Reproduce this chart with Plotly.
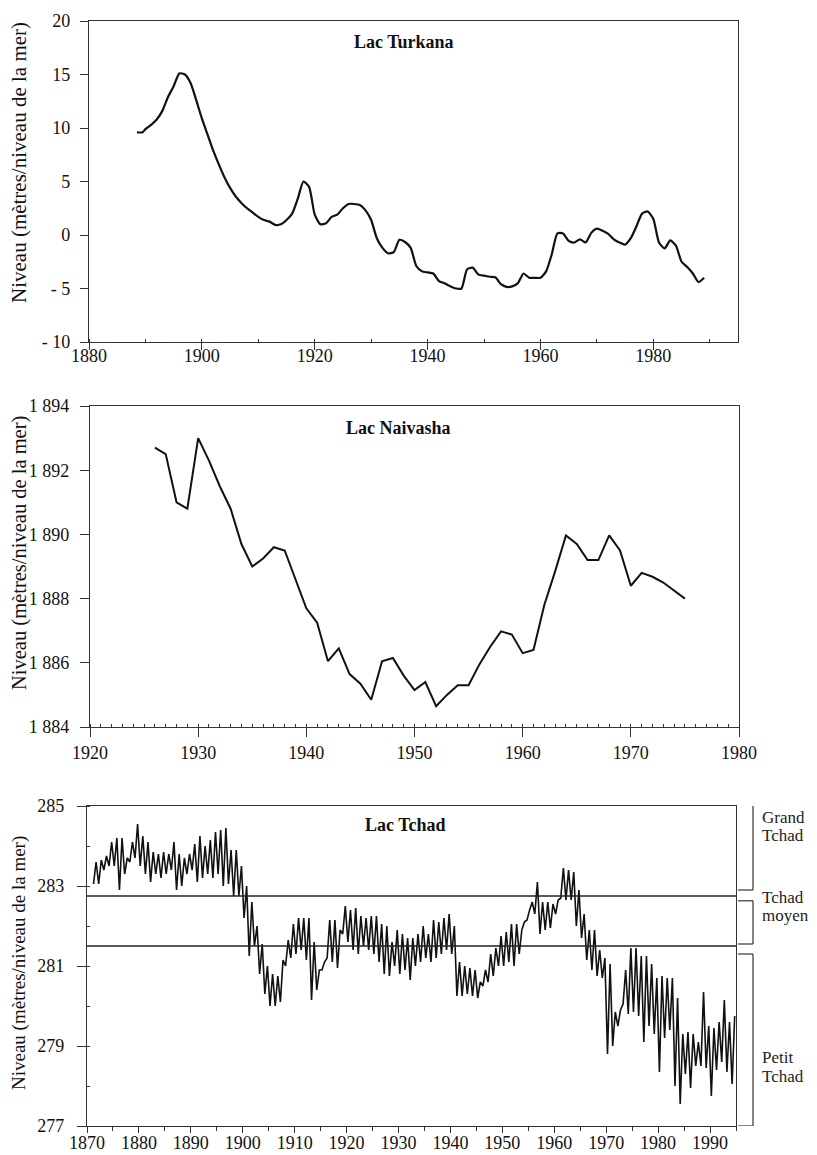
import plotly.graph_objects as go

# ---------------- DATA ----------------
turkana_years = [1888.5, 1889.5, 1890, 1891, 1892, 1893, 1894, 1895, 1896, 1897, 1898, 1899,
                 1900, 1901, 1902, 1903, 1904, 1905, 1906, 1907, 1908, 1909, 1910, 1911, 1912,
                 1913, 1914, 1915, 1916, 1917, 1918, 1919, 1920, 1921, 1922, 1923, 1924, 1925,
                 1926, 1927, 1928, 1929, 1930, 1931, 1932, 1933, 1934, 1935, 1936, 1937, 1938,
                 1939, 1940, 1941, 1942, 1943, 1944, 1945, 1946, 1947, 1948, 1949, 1950, 1951,
                 1952, 1953, 1954, 1955, 1956, 1957, 1958, 1959, 1960, 1961, 1962, 1963, 1964,
                 1965, 1966, 1967, 1968, 1969, 1970, 1971, 1972, 1973, 1974, 1975, 1976, 1977,
                 1978, 1979, 1980, 1981, 1982, 1983, 1984, 1985, 1986, 1987, 1988, 1989]
turkana_level = [9.6, 9.6, 9.9, 10.3, 10.8, 11.6, 12.9, 13.9, 15.1, 15.0, 14.2, 12.6,
                 10.9, 9.4, 7.9, 6.6, 5.4, 4.4, 3.6, 3.0, 2.5, 2.1, 1.7, 1.4, 1.25,
                 0.95, 1.0, 1.4, 2.0, 3.4, 5.0, 4.5, 1.9, 1.0, 1.1, 1.7, 1.9, 2.5,
                 2.9, 2.9, 2.8, 2.3, 1.4, -0.3, -1.2, -1.7, -1.6, -0.45, -0.65, -1.2, -2.9,
                 -3.4, -3.5, -3.6, -4.3, -4.5, -4.8, -5.0, -5.0, -3.2, -3.05, -3.7, -3.8, -3.9,
                 -3.95, -4.6, -4.85, -4.8, -4.5, -3.6, -4.0, -4.0, -4.0, -3.4, -1.8, 0.15, 0.15,
                 -0.55, -0.7, -0.4, -0.7, 0.2, 0.6, 0.4, 0.1, -0.4, -0.7, -0.9, -0.3, 0.8,
                 2.0, 2.2, 1.5, -0.7, -1.25, -0.5, -1.0, -2.5, -3.0, -3.6, -4.4, -4.0]

naivasha_years = list(range(1926, 1976))
naivasha_level = [1892.7, 1892.5, 1891.0, 1890.8, 1893.0, 1892.3, 1891.5, 1890.8, 1889.7, 1889.0,
                  1889.25, 1889.6, 1889.5, 1888.6, 1887.7, 1887.25, 1886.05, 1886.45, 1885.65, 1885.35,
                  1884.85, 1886.05, 1886.15, 1885.6, 1885.15, 1885.4, 1884.65, 1885.0, 1885.3, 1885.3,
                  1885.95, 1886.5, 1886.98, 1886.88, 1886.3, 1886.4, 1887.8, 1888.85, 1889.97, 1889.7,
                  1889.2, 1889.2, 1889.97, 1889.5, 1888.4, 1888.8, 1888.68, 1888.5, 1888.25, 1888.0]

tchad_years = list(range(1871, 1995))
tchad_high = [283.6, 283.65, 283.75, 284.1, 284.2, 284.2, 283.7, 284.1, 284.55, 284.25,
              284.1, 283.85, 283.8, 283.85, 283.8, 284.1, 283.8, 283.7, 283.8, 284.05,
              284.25, 284.0, 284.15, 284.35, 284.4, 284.45, 283.9, 283.9, 283.5, 283.0,
              282.6, 282.0, 281.55, 281.0, 280.8, 280.75, 281.15, 281.65, 282.05, 282.2,
              282.2, 282.2, 281.6, 280.9, 281.1, 282.15, 282.15, 281.9, 282.5, 282.4,
              282.45, 282.25, 282.2, 282.25, 282.25, 282.05, 282.0, 281.6, 281.9, 281.8,
              281.7, 281.7, 281.8, 282.0, 281.8, 282.15, 282.1, 282.2, 282.3, 282.0,
              281.1, 281.0, 280.95, 280.9, 280.6, 280.9, 281.3, 281.45, 281.75, 281.85,
              282.05, 282.05, 281.9, 282.15, 282.6, 283.1, 282.6, 282.6, 282.55, 282.65,
              283.45, 283.4, 283.35, 282.9, 282.3, 281.9, 281.9, 281.4, 281.2, 281.05,
              279.85, 279.9, 280.9, 281.45, 281.45, 281.25, 281.25, 281.05, 280.7, 280.75,
              280.7, 280.7, 280.2, 279.3, 279.35, 279.3, 279.1, 280.35, 279.5, 279.45,
              279.6, 280.15, 279.6, 279.75]
tchad_low = [283.05, 283.05, 283.4, 283.5, 283.5, 282.9, 283.3, 283.6, 283.7, 283.5,
             283.3, 283.1, 283.3, 283.2, 283.3, 283.4, 282.9, 283.0, 283.3, 283.4,
             283.1, 283.2, 283.3, 283.2, 283.3, 283.0, 283.05, 282.75, 282.75, 282.2,
             281.25, 281.5, 280.8, 280.3, 280.0, 280.0, 280.1, 281.0, 281.2, 281.3,
             281.4, 281.15, 280.15, 280.4, 280.9, 281.2, 281.1, 280.95, 281.8, 281.6,
             281.4, 281.3, 281.5, 281.4, 281.3, 281.1, 280.8, 280.75, 281.0, 280.8,
             280.9, 280.65, 281.0, 281.1, 281.2, 281.1, 281.2, 281.3, 281.4, 281.3,
             280.25, 280.25, 280.3, 280.25, 280.2, 280.5, 280.6, 280.75, 281.0, 281.0,
             281.1, 281.0, 281.3, 282.1, 282.4, 282.3, 281.8, 281.9, 281.95, 282.3,
             282.7, 282.65, 282.65, 282.0, 281.7, 281.15, 280.9, 280.75, 280.7, 278.8,
             279.0, 279.5, 280.05, 279.8, 279.85, 279.75, 279.1, 279.5, 279.3, 278.35,
             279.2, 279.4, 278.0, 277.55, 278.3, 277.95, 278.5, 278.5, 278.45, 277.75,
             278.4, 278.6, 278.35, 278.05]

tchad_limits = [282.75, 281.5]          # Grand / moyen / petit thresholds
tchad_zone_lines = [["Grand", "Tchad"], ["Tchad", "moyen"], ["Petit", "Tchad"]]
tchad_zone_spans = [(285.0, 282.9), (282.63, 281.55), (281.3, 277.0)]

# page geometry (the page body adds an 8px margin around the figure)
PAGE_W, PAGE_H, OFF = 817, 1155, 8
W, H = PAGE_W - OFF, PAGE_H - OFF
SERIF = "Liberation Serif, Times New Roman, serif"


def px(x):
    return (x - OFF) / W


def py(y):
    return 1 - (y - OFF) / H


# build interleaved seasonal series (low then high each year)
tx, ty = [], []
for yr, lo, hi in zip(tchad_years, tchad_low, tchad_high):
    tx += [yr + 0.25, yr + 0.75]
    ty += [lo, hi]

fig = go.Figure()
fig.add_trace(go.Scatter(x=turkana_years, y=turkana_level, mode="lines",
                         line=dict(color="#111", width=2.2, shape="spline", smoothing=0.6),
                         xaxis="x", yaxis="y", showlegend=False))
fig.add_trace(go.Scatter(x=naivasha_years, y=naivasha_level, mode="lines",
                         line=dict(color="#111", width=2),
                         xaxis="x2", yaxis="y2", showlegend=False))
fig.add_trace(go.Scatter(x=tx, y=ty, mode="lines",
                         line=dict(color="#111", width=1.6),
                         xaxis="x3", yaxis="y3", showlegend=False))
for lv in tchad_limits:
    fig.add_trace(go.Scatter(x=[1870, 1995], y=[lv, lv], mode="lines",
                             line=dict(color="#222", width=1.3),
                             xaxis="x3", yaxis="y3", showlegend=False))

tickfont = dict(family=SERIF, size=18, color="#111")
axcommon = dict(showline=True, mirror=True, linecolor="#333", linewidth=1.3,
                showgrid=False, zeroline=False, tickfont=tickfont, automargin=False,
                tickcolor="#333", tickwidth=1.3)

layout = dict(
    width=W, height=H, paper_bgcolor="white", plot_bgcolor="white",
    margin=dict(l=0, r=0, t=0, b=0, pad=0, autoexpand=False), showlegend=False,
    xaxis=dict(domain=[px(89), px(738)], anchor="y", range=[1880, 1995],
               tickmode="linear", tick0=1880, dtick=20, ticks="outside", ticklen=7,
               ticklabelstandoff=-10,
               minor=dict(tickmode="linear", tick0=1880, dtick=10, ticks="inside", ticklen=3,
                          tickcolor="#333"),
               **axcommon),
    yaxis=dict(domain=[py(342), py(21)], anchor="x", range=[-10, 20],
               tickvals=[-10, -5, 0, 5, 10, 15, 20],
               ticktext=["- 10", "- 5", "0", "5", "10", "15", "20"],
               ticks="outside", ticklen=8, ticklabelstandoff=6, **axcommon),
    xaxis2=dict(domain=[px(90), px(739)], anchor="y2", range=[1920, 1980],
                tickmode="linear", tick0=1920, dtick=10, ticks="outside", ticklen=9,
                minor=dict(tickmode="linear", tick0=1920, dtick=1, ticks="inside", ticklen=3,
                           tickcolor="#333"),
                **axcommon),
    yaxis2=dict(domain=[py(727), py(406)], anchor="x2", range=[1884, 1894],
                tickvals=[1884, 1886, 1888, 1890, 1892, 1894],
                ticktext=["1 884", "1 886", "1 888", "1 890", "1 892", "1 894"],
                ticks="outside", ticklen=9, ticklabelstandoff=7, **axcommon),
    xaxis3=dict(domain=[px(87), px(736)], anchor="y3", range=[1870, 1995],
                tickmode="linear", tick0=1870, dtick=10, ticks="outside", ticklen=6,
                ticklabelstandoff=-6,
                minor=dict(tickmode="linear", tick0=1870, dtick=5, ticks="outside", ticklen=4,
                           tickcolor="#333"),
                **axcommon),
    yaxis3=dict(domain=[py(1126), py(806)], anchor="x3", range=[277, 285],
                tickvals=[277, 279, 281, 283, 285],
                ticks="outside", ticklen=9, ticklabelstandoff=9,
                minor=dict(tickmode="linear", tick0=277, dtick=1, ticks="inside", ticklen=3,
                           tickcolor="#333"),
                **axcommon),
)
fig.update_layout(**layout)

annotations = []
# panel titles
for txt, cx, cy in [("Lac Turkana", 404, 42), ("Lac Naivasha", 398, 428), ("Lac Tchad", 405, 825)]:
    annotations.append(dict(text="<b>" + txt + "</b>", x=px(cx), y=py(cy), xref="paper", yref="paper",
                            showarrow=False, xanchor="center", yanchor="middle",
                            font=dict(family=SERIF, size=18, color="#111")))
# y-axis titles
for cy, sz in [(163, 21), (553, 20.5), (963, 19)]:
    annotations.append(dict(text="Niveau (mètres/niveau de la mer)", x=px(19), y=py(cy),
                            xref="paper", yref="paper", showarrow=False, textangle=-90,
                            xanchor="center", yanchor="middle",
                            font=dict(family=SERIF, size=sz, color="#111")))
# zone labels (one annotation per line for tight spacing)
zone_line_y = [[817, 836], [897, 915], [1057, 1076]]
for lines, ys in zip(tchad_zone_lines, zone_line_y):
    for txt, cy in zip(lines, ys):
        annotations.append(dict(text=txt, x=px(760), y=py(cy), xref="paper", yref="paper",
                                showarrow=False, xanchor="left", yanchor="middle", align="left",
                                font=dict(family=SERIF, size=17, color="#222")))
fig.update_layout(annotations=annotations)

# brackets
shapes = []
bx0, bx1 = px(738), px(753)
for i, (top, bot) in enumerate(tchad_zone_spans):
    ln = dict(color="#333", width=1.2)
    shapes.append(dict(type="line", xref="paper", yref="y3", x0=bx1, x1=bx1, y0=top, y1=bot, line=ln))
    if i > 0:
        shapes.append(dict(type="line", xref="paper", yref="y3", x0=bx0, x1=bx1, y0=top, y1=top, line=ln))
    shapes.append(dict(type="line", xref="paper", yref="y3", x0=bx0, x1=bx1, y0=bot, y1=bot, line=ln))
fig.update_layout(shapes=shapes)

fig.write_html("out.html")
